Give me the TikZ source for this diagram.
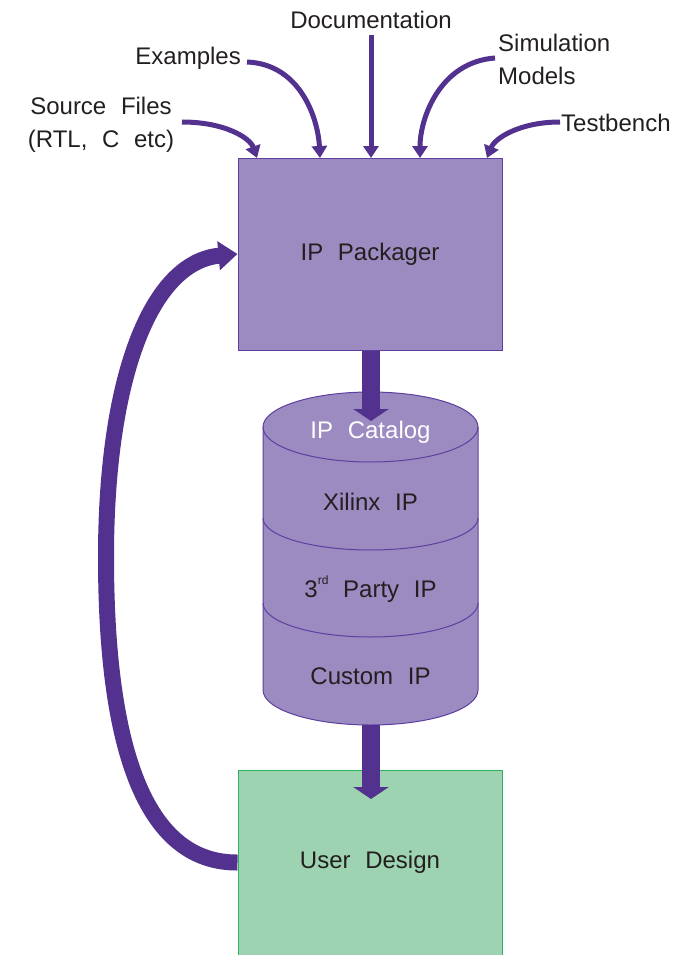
\documentclass[tikz,border=0pt]{standalone}
\usepackage{fontspec}
\setmainfont[WordSpace=2.2]{Liberation Sans}
\usetikzlibrary{arrows.meta}
\definecolor{pkfill}{HTML}{9B8BC1}
\definecolor{pkedge}{HTML}{5E3F9F}
\definecolor{arr}{HTML}{52318F}
\definecolor{udfill}{HTML}{9DD3B1}
\definecolor{udedge}{HTML}{2DB35B}
\definecolor{txt}{HTML}{231F20}
\begin{document}
\begin{tikzpicture}[x=1pt,y=1pt,
  lbl/.style={font=\fontsize{24}{33}\selectfont, text=txt, inner sep=0pt},
  thinarrow/.style={draw=arr, line width=5pt, -{Triangle[width=15pt,length=12pt]}},
  bigarrow/.style={draw=arr, line width=18pt, -{Triangle[width=35pt,length=12pt]}},
  looparrow/.style={draw=arr, line width=16pt, -{Triangle[width=28pt,length=19pt]}},
  pkbox/.style={draw=pkedge, fill=pkfill, line width=1pt, minimum width=264pt, minimum height=192pt, lbl},
  udbox/.style={draw=udedge, fill=udfill, line width=1pt, minimum width=264pt, minimum height=185pt, lbl},
  cylpart/.style={draw=pkedge, line width=1pt}
]
\useasboundingbox (0,0) rectangle (688,-955);

% boxes
\node[pkbox] (pk) at (370,-254) {IP Packager};
\node[udbox] (ud) at (370,-862.5) {User Design};

% cylinder
\node[inner sep=0pt, minimum width=215pt, minimum height=333pt] (cyl) at (370.5,-558.5) {};
\path[fill=pkfill, cylpart] (263,-427) -- (263,-690)
  arc[start angle=180, end angle=360, x radius=107.5, y radius=35]
  -- (478,-427)
  arc[start angle=0, end angle=180, x radius=107.5, y radius=35] -- cycle;
\draw[cylpart] (263,-427) arc[start angle=180, end angle=360, x radius=107.5, y radius=35];
\draw[cylpart] (263,-518) arc[start angle=180, end angle=360, x radius=107.5, y radius=32];
\draw[cylpart] (263,-603) arc[start angle=180, end angle=360, x radius=107.5, y radius=34];

\node[lbl, text=white] (cat) at (370.5,-432) {IP Catalog};
\node[lbl] (xil) at (370.5,-502) {Xilinx IP};
\node[lbl] (party) at (370.5,-589) {3\raisebox{0.55em}{\fontsize{12}{12}\selectfont rd} Party IP};
\node[lbl] (cust) at (370.5,-676) {Custom IP};

% big arrows
\coordinate (t1) at (371,-421);
\coordinate (c1) at (371,-725);
\coordinate (t2) at (371,-799);
\draw[bigarrow] (pk.south -| t1) -- (t1);
\draw[bigarrow] (c1) -- (t2);

% loop arrow
\draw[looparrow] (ud.west) .. controls (150,-863) and (106,-760) .. (106,-557)
  .. controls (106,-380) and (150,-262) .. (pk.west);

% top labels
\node[lbl] (doc) at (371,-20) {Documentation};
\node[lbl, anchor=east] (ex) at (241,-58) {Examples};
\node[lbl, align=center] (src) at (101,-125) {Source Files\\(RTL, C etc)};
\node[lbl, align=left, anchor=west] (sim) at (498,-59) {Simulation\\Models};
\node[lbl, anchor=west] (tb) at (561,-123) {Testbench};

\coordinate (s0) at (182,-122);
\coordinate (s1) at (257,-158);
\coordinate (e0) at (247,-62);
\coordinate (e1) at (320,-158);
\coordinate (d0) at (371,-35);
\coordinate (d1) at (371,-158);
\coordinate (m0) at (495,-58);
\coordinate (m1) at (420,-158);
\coordinate (b0) at (560,-122);
\coordinate (b1) at (487,-158);

\draw[thinarrow] (s0) .. controls (225,-122) and (250,-138) .. (s1);
\draw[thinarrow] (e0) .. controls (300,-64) and (318,-118) .. (e1);
\draw[thinarrow] (d0) -- (d1);
\draw[thinarrow] (m0) .. controls (440,-62) and (420,-118) .. (m1);
\draw[thinarrow] (b0) .. controls (520,-122) and (495,-138) .. (b1);
\end{tikzpicture}
\end{document}
